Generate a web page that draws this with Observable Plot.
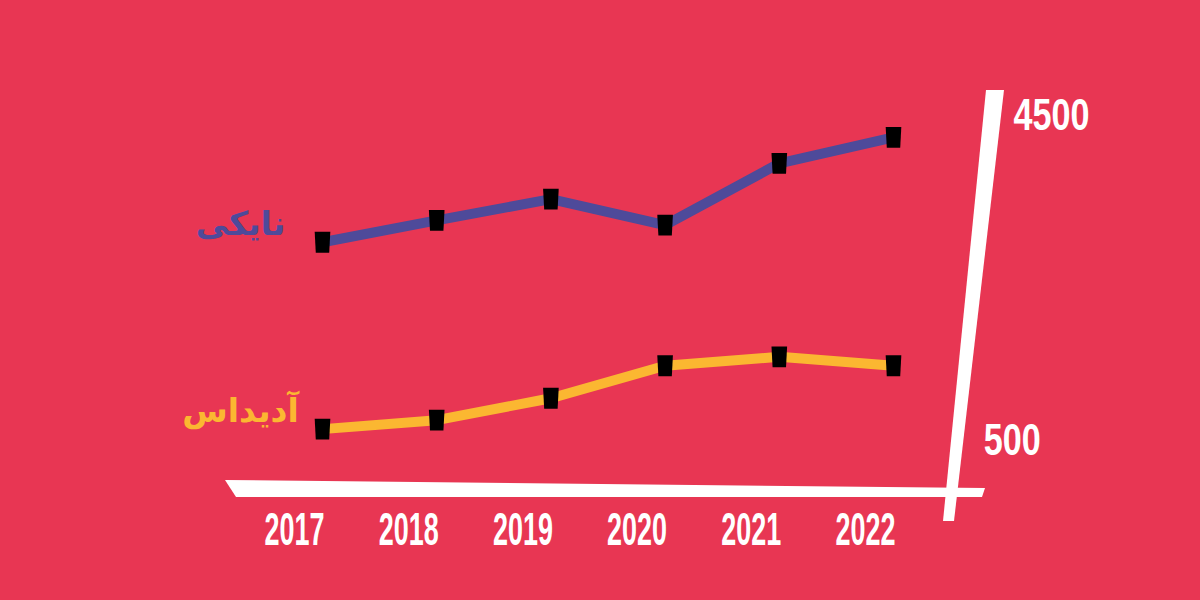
<!DOCTYPE html>
<html>
<head>
<meta charset="utf-8">
<script src="https://cdn.jsdelivr.net/npm/d3@7"></script>
<script src="https://cdn.jsdelivr.net/npm/@observablehq/plot@0.6"></script>
<style>
  html, body { margin: 0; padding: 0; background: #E83653; }
  #chart { width: 1200px; height: 600px; }
</style>
</head>
<body>
<div id="chart"></div>
<script>
// ---- data ----
const years = [2017, 2018, 2019, 2020, 2021, 2022];
const nike = [2940, 3210, 3470, 3150, 3910, 4230];
const adidas = [640, 750, 1020, 1420, 1530, 1420];
const seriesNames = ["نایکی", "آدیداس"];
const yTicks = [500, 4500];
const seriesColors = ["#4E4A9A", "#FBB731"];
const bg = "#E83653";

const rows = years.flatMap((yr, i) => [
  { year: yr, value: nike[i], series: seriesNames[0] },
  { year: yr, value: adidas[i], series: seriesNames[1] }
]);

// slightly tapered box marker
const tallBox = {
  draw(ctx, size) {
    const s = Math.sqrt(size);
    const w = s * 0.42, h = s * 0.56;
    ctx.moveTo(-w, -h);
    ctx.lineTo(w, -h);
    ctx.lineTo(w * 0.86, h);
    ctx.lineTo(-w * 0.86, h);
    ctx.closePath();
  }
};

// hand-cut looking axis strokes, positioned from the chart scales
function axisFrame(index, scales) {
  const sx = scales.x, sy = scales.y;
  const x0 = sx(years[0]), x1 = sx(years[years.length - 1]);
  const yTop = sy(yTicks[1]), yBot = sy(yTicks[0]);
  const g = d3.create("svg:g").attr("fill", "white");
  g.append("path").attr("d",
    `M${x0 - 97},${yBot + 40} L${x1 + 92},${yBot + 48} L${x1 + 89},${yBot + 57} L${x0 - 86},${yBot + 57} Z`);
  g.append("path").attr("d",
    `M${x1 + 93},${yTop - 25} L${x1 + 111},${yTop - 25} L${x1 + 61},${yBot + 81} L${x1 + 50},${yBot + 81} Z`);
  return g.node();
}

// y labels follow the slanted axis
const yLabelX = d => years[years.length - 1] + 0.79 + (d - yTicks[0]) / (yTicks[1] - yTicks[0]) * 0.26;

const chart = Plot.plot({
  width: 1200,
  height: 600,
  marginLeft: 322,
  marginRight: 307,
  marginTop: 115,
  marginBottom: 160,
  x: { domain: [2017, 2022] },
  y: { domain: [500, 4500], axis: null },
  color: { domain: seriesNames, range: seriesColors },
  style: { background: bg, color: "white", overflow: "visible" },
  marks: [
    axisFrame,
    Plot.axisX({
      ticks: years,
      tickFormat: d => String(d),
      label: null,
      tickSize: 0,
      tickPadding: 72,
      dx: -28,
      fontSize: 46,
      fontWeight: "bold",
      fontFamily: "Liberation Sans, Arial, sans-serif",
      fill: "white"
    }),
    Plot.line(rows, {
      x: "year", y: "value", z: "series", stroke: "series",
      strokeWidth: 10, strokeLinejoin: "round"
    }),
    Plot.dot(rows, {
      x: "year", y: "value", symbol: tallBox, r: 10.5, fill: "black"
    }),
    Plot.text(yTicks, {
      x: yLabelX, y: d => d, text: d => String(d),
      textAnchor: "start", lineAnchor: "middle",
      fontSize: 44, fontWeight: "bold", fontFamily: "Liberation Sans, Arial, sans-serif",
      fill: "white", className: "ylab"
    }),
    Plot.text(rows, Plot.selectFirst({
      x: "year", y: "value", z: "series", text: "series", fill: "series",
      dx: -82, dy: -18, textAnchor: "middle", lineAnchor: "middle",
      fontSize: 33, fontWeight: "bold", fontFamily: "DejaVu Sans, sans-serif"
    }))
  ]
});

d3.select(chart).selectAll('g[aria-label="x-axis tick label"] text')
  .attr("textLength", 60).attr("lengthAdjust", "spacingAndGlyphs");
d3.select(chart).selectAll('.ylab text')
  .attr("textLength", function () { return this.textContent.length * 19; })
  .attr("lengthAdjust", "spacingAndGlyphs");

document.getElementById("chart").append(chart);
</script>
</body>
</html>
